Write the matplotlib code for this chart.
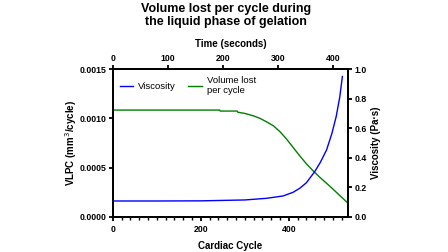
import numpy as np
import matplotlib.pyplot as plt
from matplotlib.ticker import MultipleLocator, FormatStrFormatter

plt.rcParams['font.family'] = ['Liberation Sans', 'DejaVu Sans']

# volume lost per cycle (left axis)
cyc_vol = np.array([0, 100, 200, 243, 244, 283, 284, 300, 320, 335, 349, 365, 380, 395,
                    410, 425, 440, 455, 470, 486, 500, 516, 535])
vlpc = np.array([0.001084, 0.001084, 0.001084, 0.001084, 0.001074, 0.001074, 0.001062,
                 0.001050, 0.001025, 0.000999, 0.000966, 0.000925, 0.000865, 0.000790,
                 0.000705, 0.000620, 0.000540, 0.000470, 0.000405, 0.000342, 0.000285,
                 0.000218, 0.000139])

# viscosity (right axis)
cyc_visc = np.array([0, 100, 200, 300, 349, 387, 410, 425, 440, 459, 472, 486, 498,
                     508, 516, 522])
visc = np.array([0.108, 0.108, 0.109, 0.115, 0.126, 0.142, 0.167, 0.194, 0.231, 0.306,
                 0.370, 0.453, 0.563, 0.680, 0.810, 0.950])

fig = plt.figure(figsize=(4.48, 2.52), dpi=100)
ax = fig.add_axes([0.252, 0.139, 0.525, 0.587])
ax2 = ax.twinx()

l2, = ax.plot(cyc_vol, vlpc, color='#007F00', lw=1.0)
l1, = ax2.plot(cyc_visc, visc, color='#0000FF', lw=1.0)

ax.set_xlim(0, 535)
ax.set_ylim(0, 0.0015)
ax2.set_ylim(0, 1.0)

ax.xaxis.set_major_locator(MultipleLocator(200))
ax.xaxis.set_minor_locator(MultipleLocator(20))
ax.yaxis.set_major_locator(MultipleLocator(0.0005))
ax.yaxis.set_major_formatter(FormatStrFormatter('%.4f'))
ax2.yaxis.set_major_locator(MultipleLocator(0.2))
ax2.yaxis.set_major_formatter(FormatStrFormatter('%.1f'))

top = ax.secondary_xaxis('top', functions=(lambda x: x / 1.25, lambda x: x * 1.25))
top.xaxis.set_major_locator(MultipleLocator(100))

for a in (ax, ax2, top):
    for s in a.spines.values():
        s.set_linewidth(1.3)
    a.tick_params(which='major', length=3, width=1.3, labelsize=6.3, pad=1.5)
    a.tick_params(which='minor', length=2, width=1.0)
    for lab in a.get_xticklabels() + a.get_yticklabels():
        lab.set_fontweight('bold')
ax.tick_params(axis='x', which='major', pad=3)

ax.set_xlabel('Cardiac Cycle', fontsize=7, fontweight='bold', labelpad=5)
ax.set_ylabel('VLPC (mm$^3$/cycle)', fontsize=7, fontweight='bold', labelpad=0.5)
ax2.set_ylabel('Viscosity (Pa·s)', fontsize=7, fontweight='bold', labelpad=3)
top.set_xlabel('Time (seconds)', fontsize=7, fontweight='bold', labelpad=5)

ax2.legend([l1, l2], ['Viscosity', 'Volume lost\nper cycle'], loc='upper left',
           ncol=2, frameon=False, fontsize=6.8, handlelength=1.4, columnspacing=1.3,
           handletextpad=0.6, borderaxespad=0.3, bbox_to_anchor=(0.0, 1.0))

fig.text(0.504, 0.99, 'Volume lost per cycle during\nthe liquid phase of gelation',
         ha='center', va='top', fontsize=9, fontweight='bold', linespacing=1.15)

fig.savefig('out.png', dpi=100)
